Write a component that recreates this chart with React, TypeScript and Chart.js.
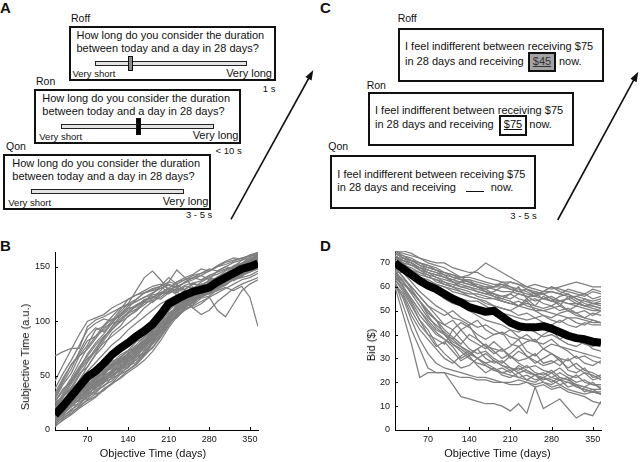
import React, { useEffect, useRef } from "react";
import { Chart, registerables } from "chart.js";

Chart.register(...registerables);

const FONT = '"Liberation Sans", Arial, Helvetica, sans-serif';

// ---------- data ----------
const days = [14, 28, 42, 56, 70, 84, 98, 112, 126, 140, 154, 168, 182, 196, 210, 224, 238, 252, 266, 280, 294, 308, 322, 336, 350, 364];
const xTickValues = [70, 140, 210, 280, 350];
const subjectiveTicks = [0, 50, 100, 150];
const bidTicks = [0, 10, 20, 30, 40, 50, 60, 70];

const subjectiveMean = [14, 22, 31, 40, 49, 54, 61, 69, 75, 80, 86, 91, 97, 106, 116, 120, 124, 127, 129, 131, 136, 140, 144, 148, 150, 153];

const subjectiveSubjects: number[][] = [
  [68, 72, 75, 75, 95, 101, 104, 108, 112, 115, 118, 122, 124, 126, 130, 128, 133, 135, 132, 138, 140, 137, 142, 146, 148, 150],
  [38, 52, 64, 78, 92, 98, 102, 100, 106, 112, 120, 126, 128, 130, 133, 130, 136, 140, 138, 142, 145, 148, 150, 153, 156, 158],
  [30, 44, 56, 72, 86, 94, 90, 98, 108, 116, 128, 140, 146, 138, 128, 132, 135, 138, 142, 146, 150, 152, 155, 158, 160, 162],
  [26, 36, 48, 62, 76, 86, 96, 104, 112, 116, 120, 126, 129, 132, 126, 136, 140, 143, 148, 146, 151, 155, 158, 157, 161, 163],
  [22, 32, 44, 56, 70, 80, 88, 98, 106, 114, 118, 122, 126, 130, 134, 131, 136, 140, 142, 138, 146, 150, 148, 152, 156, 160],
  [34, 48, 60, 68, 74, 84, 94, 98, 100, 107, 111, 118, 125, 132, 140, 134, 128, 122, 125, 130, 134, 140, 137, 142, 145, 148],
  [20, 34, 46, 58, 68, 78, 86, 92, 99, 104, 110, 115, 121, 128, 136, 147, 140, 131, 128, 134, 140, 144, 147, 150, 151, 155],
  [28, 42, 52, 68, 78, 92, 95, 102, 104, 112, 113, 120, 121, 126, 125, 130, 129, 134, 133, 137, 139, 141, 144, 143, 147, 149],
  [18, 30, 42, 54, 64, 75, 85, 94, 102, 108, 114, 119, 117, 124, 130, 127, 120, 112, 106, 110, 118, 124, 130, 134, 137, 140],
  [15, 26, 38, 50, 62, 73, 84, 95, 104, 110, 115, 119, 123, 120, 126, 129, 127, 131, 130, 125, 128, 131, 128, 132, 122, 95],
  [12, 22, 34, 46, 58, 70, 82, 92, 100, 108, 114, 118, 122, 126, 130, 124, 118, 112, 116, 122, 110, 104, 116, 128, 134, 138],
  [45, 60, 74, 88, 100, 103, 106, 112, 116, 120, 124, 126, 130, 132, 136, 134, 138, 142, 144, 146, 150, 154, 156, 158, 160, 162],
  [32, 46, 60, 70, 82, 86, 92, 100, 110, 120, 124, 128, 132, 134, 130, 136, 138, 140, 144, 148, 146, 150, 154, 156, 158, 160],
  [20, 31, 39, 52, 58, 69, 77, 89, 95, 105, 109, 117, 119, 125, 127, 133, 129, 135, 137, 141, 143, 147, 149, 153, 153, 158],
  [26, 38, 44, 56, 66, 72, 80, 86, 92, 98, 104, 112, 118, 122, 128, 126, 132, 130, 136, 140, 138, 144, 146, 150, 152, 154],
  [16, 26, 36, 44, 54, 62, 70, 78, 84, 92, 98, 104, 110, 116, 120, 124, 126, 128, 130, 128, 134, 136, 140, 142, 146, 148],
  [10, 14, 22, 24, 33, 35, 44, 47, 56, 58, 67, 70, 81, 86, 99, 106, 116, 118, 126, 127, 133, 135, 141, 144, 151, 154],
  [12, 19, 23, 31, 35, 41, 45, 53, 57, 65, 69, 79, 85, 97, 104, 113, 117, 123, 125, 131, 134, 141, 144, 151, 154, 160],
  [8, 15, 21, 29, 33, 39, 43, 51, 55, 63, 67, 76, 83, 95, 103, 115, 119, 125, 127, 133, 137, 143, 147, 153, 157, 162],
  [15, 21, 29, 34, 41, 45, 53, 57, 65, 69, 75, 79, 89, 97, 109, 117, 123, 125, 131, 133, 141, 143, 151, 153, 159, 163],
  [20, 27, 30, 37, 42, 49, 53, 61, 65, 70, 77, 82, 91, 99, 111, 115, 121, 123, 129, 130, 135, 138, 143, 145, 151, 153],
  [5, 12, 19, 23, 31, 34, 41, 45, 53, 57, 65, 69, 79, 87, 99, 105, 113, 117, 123, 125, 131, 133, 139, 141, 147, 149],
  [18, 23, 33, 37, 45, 49, 57, 61, 69, 73, 81, 85, 93, 97, 105, 109, 117, 119, 125, 127, 133, 135, 141, 143, 149, 151],
  [9, 18, 26, 33, 38, 44, 50, 59, 62, 71, 74, 83, 90, 101, 107, 112, 118, 120, 126, 129, 135, 137, 143, 148, 152, 157],
  [14, 20, 25, 30, 37, 43, 48, 52, 60, 66, 71, 77, 86, 94, 100, 108, 114, 121, 124, 129, 133, 138, 144, 147, 153, 156],
  [22, 28, 35, 40, 46, 50, 55, 60, 63, 67, 72, 80, 88, 95, 101, 110, 116, 120, 122, 126, 130, 136, 140, 144, 147, 152],
  [6, 11, 15, 22, 27, 31, 38, 43, 51, 55, 61, 69, 79, 89, 101, 103, 111, 115, 121, 123, 129, 133, 139, 141, 147, 150],
  [11, 17, 27, 30, 38, 42, 50, 54, 62, 66, 74, 78, 88, 92, 102, 110, 114, 120, 124, 128, 130, 136, 142, 146, 150, 155],
  [16, 24, 28, 36, 39, 47, 51, 59, 62, 70, 73, 81, 87, 95, 106, 114, 118, 126, 128, 132, 136, 140, 146, 150, 156, 159],
  [7, 13, 18, 26, 29, 37, 40, 48, 51, 59, 62, 70, 75, 85, 96, 106, 112, 118, 123, 127, 132, 138, 142, 148, 152, 158],
  [25, 31, 37, 43, 47, 53, 57, 63, 66, 73, 75, 85, 91, 101, 107, 113, 117, 123, 125, 131, 131, 137, 139, 143, 145, 150],
  [13, 16, 24, 27, 34, 38, 46, 49, 57, 60, 68, 71, 82, 90, 102, 110, 120, 124, 130, 132, 138, 140, 146, 148, 154, 157],
  [9, 16, 22, 28, 31, 40, 44, 50, 54, 61, 64, 73, 80, 92, 100, 111, 115, 121, 124, 130, 132, 138, 140, 146, 150, 154],
  [19, 25, 31, 35, 43, 46, 54, 56, 64, 66, 74, 76, 86, 90, 100, 104, 114, 116, 124, 126, 134, 136, 144, 146, 154, 156],
  [4, 9, 14, 20, 25, 30, 37, 42, 48, 55, 60, 68, 76, 86, 96, 108, 116, 122, 128, 134, 140, 146, 150, 156, 160, 163],
  [17, 21, 26, 32, 36, 42, 47, 54, 59, 63, 69, 76, 84, 90, 98, 104, 110, 114, 118, 122, 126, 130, 134, 138, 140, 144],
  [10, 17, 24, 28, 36, 40, 47, 52, 58, 62, 70, 74, 84, 92, 104, 112, 118, 124, 128, 134, 136, 142, 146, 152, 155, 161],
  [21, 26, 34, 39, 44, 51, 55, 58, 67, 72, 78, 86, 94, 104, 112, 118, 120, 124, 126, 130, 132, 134, 138, 140, 142, 146],
  [13, 20, 27, 33, 40, 44, 49, 55, 61, 64, 72, 80, 90, 100, 110, 118, 126, 130, 134, 136, 140, 144, 148, 150, 154, 160],
  [16, 22, 30, 35, 41, 48, 52, 60, 62, 68, 76, 81, 93, 103, 113, 121, 124, 129, 131, 135, 139, 142, 147, 152, 156, 162],
  [3, 10, 17, 21, 28, 33, 36, 43, 47, 53, 58, 64, 72, 82, 94, 104, 112, 118, 122, 126, 132, 136, 140, 144, 149, 152],
  [24, 31, 38, 45, 52, 58, 63, 68, 72, 78, 84, 90, 98, 106, 114, 118, 122, 125, 128, 131, 135, 139, 142, 145, 148, 151],
];

const bidMean = [70, 67.5, 65, 62.5, 60.5, 59, 57, 55, 53.5, 51.5, 50.5, 49.5, 50, 47.5, 45, 43.5, 43, 43, 43.5, 42.5, 41, 39.5, 38.5, 38, 37, 36.5];

const bidSubjects: number[][] = [
  [75, 75, 74, 72, 71, 70, 70, 68, 67, 66, 66, 64, 63, 62, 62, 61, 60, 61, 60, 59, 60, 61, 62, 61, 60, 60],
  [74, 72, 71, 69, 68, 67, 65, 64, 63, 63, 62, 61, 60, 60, 59, 58, 59, 58, 57, 58, 57, 59, 58, 57, 59, 58],
  [73, 71, 69, 68, 66, 65, 64, 62, 61, 60, 59, 58, 57, 56, 55, 57, 56, 54, 55, 56, 54, 55, 53, 52, 53, 52],
  [72, 70, 69, 67, 65, 64, 63, 62, 60, 60, 58, 57, 56, 54, 53, 52, 53, 52, 51, 52, 50, 51, 49, 50, 48, 50],
  [75, 73, 71, 70, 69, 68, 66, 65, 64, 64, 63, 62, 61, 61, 60, 59, 58, 56, 57, 55, 54, 55, 56, 55, 54, 55],
  [71, 69, 68, 66, 64, 63, 62, 60, 58, 57, 57, 56, 55, 54, 53, 54, 52, 51, 50, 51, 52, 50, 49, 47, 46, 45],
  [74, 73, 71, 69, 67, 66, 65, 62, 62, 61, 60, 58, 57, 55, 54, 52, 55, 58, 57, 55, 52, 56, 54, 52, 51, 50],
  [73, 70, 67, 66, 65, 62, 61, 60, 62, 63, 60, 58, 56, 55, 57, 60, 55, 52, 56, 54, 53, 50, 52, 55, 53, 54],
  [70, 68, 66, 64, 63, 61, 60, 58, 57, 56, 55, 54, 52, 51, 50, 48, 49, 47, 48, 46, 45, 47, 45, 44, 46, 45],
  [75, 74, 73, 72, 70, 69, 68, 66, 64, 65, 67, 70, 68, 66, 64, 62, 60, 59, 58, 58, 57, 56, 56, 57, 55, 56],
  [72, 72, 71, 70, 69, 67, 66, 64, 63, 62, 60, 59, 60, 62, 60, 58, 59, 57, 55, 54, 56, 57, 55, 53, 52, 51],
  [68, 67, 65, 64, 62, 61, 60, 59, 58, 56, 55, 53, 52, 51, 50, 52, 54, 50, 48, 47, 49, 50, 48, 47, 49, 48],
  [74, 72, 70, 67, 66, 64, 62, 61, 60, 59, 58, 57, 58, 60, 62, 61, 59, 57, 58, 60, 58, 57, 55, 54, 53, 53],
  [66, 66, 64, 62, 61, 59, 58, 56, 55, 54, 54, 52, 50, 49, 48, 47, 46, 47, 45, 44, 46, 44, 43, 45, 44, 44],
  [73, 71, 70, 68, 67, 66, 64, 63, 62, 61, 60, 60, 59, 58, 58, 57, 56, 56, 55, 54, 54, 53, 53, 52, 52, 51],
  [70, 69, 67, 65, 64, 63, 61, 60, 59, 58, 56, 55, 55, 54, 53, 52, 51, 50, 50, 49, 48, 47, 47, 46, 45, 45],
  [74, 73, 72, 70, 68, 67, 66, 65, 63, 62, 61, 60, 60, 61, 59, 58, 57, 56, 58, 60, 59, 58, 57, 56, 58, 57],
  [72, 71, 70, 68, 66, 65, 64, 63, 64, 62, 60, 59, 57, 56, 57, 55, 54, 55, 53, 52, 54, 53, 52, 51, 50, 50],
  [70, 67, 64, 62, 60, 58, 55, 53, 52, 50, 48, 46, 45, 44, 42, 41, 43, 41, 39, 40, 38, 40, 38, 36, 35, 36],
  [68, 64, 60, 56, 52, 50, 48, 50, 47, 45, 43, 44, 42, 40, 42, 39, 38, 37, 40, 42, 38, 36, 35, 37, 34, 33],
  [66, 62, 58, 54, 50, 46, 44, 42, 45, 43, 40, 38, 40, 41, 36, 35, 37, 38, 34, 36, 35, 33, 30, 31, 29, 28],
  [64, 60, 55, 50, 46, 42, 40, 38, 42, 44, 38, 35, 34, 33, 35, 38, 33, 31, 34, 32, 30, 29, 31, 28, 27, 29],
  [69, 66, 62, 58, 55, 52, 50, 47, 46, 44, 46, 42, 40, 41, 39, 38, 40, 37, 36, 38, 35, 34, 33, 32, 31, 30],
  [65, 60, 54, 48, 44, 40, 38, 35, 30, 32, 34, 30, 28, 29, 26, 25, 27, 24, 23, 25, 22, 21, 23, 20, 19, 18],
  [63, 58, 52, 46, 42, 36, 32, 29, 26, 27, 30, 28, 26, 24, 25, 22, 23, 21, 22, 20, 22, 21, 19, 18, 20, 17],
  [61, 57, 50, 44, 40, 38, 36, 42, 38, 34, 32, 33, 30, 28, 31, 28, 26, 27, 25, 24, 26, 23, 22, 24, 21, 22],
  [60, 56, 48, 42, 38, 34, 30, 28, 31, 33, 30, 27, 25, 26, 24, 27, 25, 23, 21, 22, 24, 22, 18, 17, 16, 15],
  [62, 55, 46, 38, 32, 28, 26, 25, 24, 23, 22, 22, 21, 20, 20, 21, 20, 19, 20, 18, 19, 17, 16, 15, 16, 15],
  [67, 62, 58, 54, 50, 46, 40, 36, 34, 31, 34, 36, 33, 30, 32, 35, 31, 28, 30, 32, 29, 26, 28, 25, 24, 22],
  [66, 63, 60, 56, 52, 48, 44, 46, 42, 38, 36, 34, 37, 34, 31, 29, 30, 32, 28, 29, 27, 30, 26, 24, 23, 21],
  [64, 61, 58, 54, 49, 46, 42, 39, 36, 40, 38, 35, 32, 34, 30, 33, 31, 29, 27, 28, 30, 25, 24, 26, 22, 23],
  [60, 48, 36, 22, 24, 24, 24, 19, 14, 13, 12, 11, 11, 10, 8, 11, 7, 18, 9, 11, 13, 9, 5, 7, 6, 12],
  [62, 52, 42, 34, 26, 24, 24, 23, 22, 22, 21, 21, 20, 20, 19, 19, 20, 18, 19, 17, 18, 16, 15, 14, 12, 11],
  [68, 64, 59, 54, 48, 43, 40, 37, 35, 33, 30, 28, 29, 27, 25, 26, 24, 23, 22, 24, 21, 22, 20, 21, 19, 19],
  [65, 62, 57, 52, 47, 44, 41, 38, 35, 32, 30, 32, 29, 27, 26, 24, 25, 23, 24, 22, 21, 20, 19, 18, 17, 17],
  [63, 59, 53, 46, 40, 35, 37, 33, 29, 31, 27, 24, 26, 23, 22, 24, 21, 23, 20, 19, 21, 18, 19, 16, 17, 15],
  [66, 60, 55, 50, 45, 41, 38, 36, 33, 30, 28, 27, 25, 24, 23, 22, 21, 20, 22, 21, 19, 20, 18, 17, 16, 16],
];

// ---------- chart helpers ----------
const inwardTicks = {
  id: "inwardTicks",
  afterDatasetsDraw(chart: any) {
    const { ctx, chartArea, scales } = chart;
    ctx.save();
    ctx.strokeStyle = "#000";
    ctx.lineWidth = 1;
    ctx.beginPath();
    scales.x.ticks.forEach((t: any) => {
      const px = Math.round(scales.x.getPixelForValue(t.value)) + 0.5;
      ctx.moveTo(px, chartArea.bottom);
      ctx.lineTo(px, chartArea.bottom - 3);
    });
    scales.y.ticks.forEach((t: any) => {
      const py = Math.round(scales.y.getPixelForValue(t.value)) + 0.5;
      ctx.moveTo(chartArea.left, py);
      ctx.lineTo(chartArea.left + 3, py);
    });
    ctx.stroke();
    ctx.restore();
  },
};

type LCProps = {
  left: number; top: number; width: number; height: number;
  padTop: number; padRight: number; yWidth: number;
  yMax: number; yTicks: number[]; mean: number[]; subjects: number[][];
};

function LineChart(p: LCProps) {
  const ref = useRef<HTMLCanvasElement>(null);
  useEffect(() => {
    const toPts = (vals: number[]) => vals.map((v, i) => ({ x: days[i], y: v }));
    const datasets: any[] = [
      {
        data: toPts(p.mean),
        borderColor: "#000",
        borderWidth: 8,
        borderJoinStyle: "round",
        pointRadius: 0,
        clip: 0,
      },
      ...p.subjects.map((s) => ({
        data: toPts(s),
        borderColor: "#7f7f7f",
        borderWidth: 1.25,
        pointRadius: 0,
        clip: 0,
      })),
    ];
    const tickFont = { family: FONT, size: 9 };
    const chart = new Chart(ref.current!, {
      type: "line",
      data: { datasets },
      plugins: [inwardTicks],
      options: {
        animation: false,
        responsive: false,
        maintainAspectRatio: false,
        layout: { padding: { top: p.padTop, right: p.padRight, left: 0, bottom: 0 } },
        plugins: { legend: { display: false }, tooltip: { enabled: false } },
        elements: { line: { tension: 0 }, point: { radius: 0 } },
        scales: {
          x: {
            type: "linear",
            min: 14,
            max: 364,
            grid: { display: false, drawTicks: false },
            border: { display: true, color: "#000", width: 1 },
            ticks: { font: tickFont, color: "#111", padding: 4, maxRotation: 0 },
            afterBuildTicks: (s: any) => { s.ticks = xTickValues.map((v) => ({ value: v })); },
            afterFit: (s: any) => { s.height = 32; },
          },
          y: {
            type: "linear",
            min: 0,
            max: p.yMax,
            grid: { display: false, drawTicks: false },
            border: { display: true, color: "#000", width: 1 },
            ticks: { font: tickFont, color: "#111", padding: 5 },
            afterBuildTicks: (s: any) => { s.ticks = p.yTicks.map((v) => ({ value: v })); },
            afterFit: (s: any) => { s.width = p.yWidth; },
          },
        },
      } as any,
    });
    return () => chart.destroy();
  }, []);
  return (
    <canvas
      ref={ref}
      width={p.width}
      height={p.height}
      style={{ position: "absolute", left: p.left, top: p.top, width: p.width, height: p.height }}
    />
  );
}

// ---------- diagram helpers ----------
function Txt(props: { x: number; y: number; size: number; bold?: boolean; align?: "left" | "right" | "center"; children: any; style?: any }) {
  const { x, y, size, bold, align = "left", children, style } = props;
  const lh = Math.round(size * 1.2);
  const st: any = {
    position: "absolute",
    top: y - lh / 2,
    fontSize: size,
    lineHeight: lh + "px",
    whiteSpace: "nowrap",
    fontWeight: bold ? "bold" : "normal",
    color: "#111",
  };
  if (align === "left") st.left = x;
  else if (align === "right") st.right = 640 - x;
  else { st.left = x; st.transform = "translateX(-50%)"; }
  return <div style={{ ...st, ...style }}>{children}</div>;
}

function Rect(props: { l: number; t: number; r: number; b: number; fill?: string; bw?: number; color?: string }) {
  const { l, t, r, b, fill = "#fff", bw = 2, color = "#111" } = props;
  return (
    <div
      style={{
        position: "absolute", left: l, top: t, width: r - l, height: b - t,
        boxSizing: "border-box", border: `${bw}px solid ${color}`, background: fill,
      }}
    />
  );
}

function Arrow({ x1, y1, x2, y2 }: { x1: number; y1: number; x2: number; y2: number }) {
  const dx = x2 - x1, dy = y2 - y1;
  const len = Math.hypot(dx, dy);
  const ux = dx / len, uy = dy / len;
  const nx = -uy, ny = ux;
  const hl = 10, hw = 3.5;
  const bx = x2 - ux * hl, by = y2 - uy * hl;
  const pts = `${x2},${y2} ${bx + nx * hw},${by + ny * hw} ${bx - nx * hw},${by - ny * hw}`;
  return (
    <g>
      <line x1={x1} y1={y1} x2={bx + ux * 2} y2={by + uy * 2} stroke="#111" strokeWidth={1.6} />
      <polygon points={pts} fill="#111" />
    </g>
  );
}

const Q1 = "How long do you consider the duration";
const Q2 = "between today and a day in 28 days?";
const C1 = "I feel indifferent between receiving $75";
const C2 = "in 28 days and receiving";

function SliderScreen(props: { label: string; lx: number; ly: number; l: number; t: number; r: number; b: number; tx: number; bar: [number, number, number]; handle?: [number, number, number, number, string]; shortX: number; longR: number; time: string; timeX: number; timeY: number }) {
  const { label, lx, ly, l, t, r, b, tx, bar, handle, shortX, longR, time, timeX, timeY } = props;
  return (
    <>
      <Txt x={lx} y={ly} size={10.5}>{label}</Txt>
      <Rect l={l} t={t} r={r} b={b} />
      <Txt x={tx} y={t + 9} size={11}>{Q1}</Txt>
      <Txt x={tx} y={t + 22.3} size={11}>{Q2}</Txt>
      <div
        style={{
          position: "absolute", left: bar[0], top: bar[2], width: bar[1] - bar[0], height: 5,
          boxSizing: "border-box", border: "1px solid #222", background: "#e4e4e4",
        }}
      />
      {handle && (
        <div
          style={{
            position: "absolute", left: handle[0], top: handle[1], width: handle[2], height: handle[3],
            boxSizing: "border-box", border: "1px solid #111", background: handle[4],
          }}
        />
      )}
      <Txt x={shortX} y={b - 7.5} size={9.5}>Very short</Txt>
      <Txt x={longR} y={b - 7.8} size={11} align="right">Very long</Txt>
      <Txt x={timeX} y={timeY} size={9.5} align="right">{time}</Txt>
    </>
  );
}

export default function App() {
  return (
    <div
      style={{
        position: "absolute", left: 0, top: 0, width: 640, height: 462,
        background: "#fff", fontFamily: FONT, overflow: "hidden",
      }}
    >
      {/* Panel A */}
      <Txt x={0} y={8} size={15} bold>A</Txt>
      <SliderScreen label="Roff" lx={71} ly={18} l={69} t={26} r={276} b={81} tx={76.5} bar={[95, 247, 60.5]} handle={[128, 55.5, 4.5, 15.5, "#8a8a8a"]} shortX={72.5} longR={272} time="1 s" timeX={275.5} timeY={88.5} />
      <SliderScreen label="Ron" lx={36} ly={81} l={34} t={89} r={241} b={143.5} tx={42.3} bar={[61, 213.5, 124]} handle={[136, 118.3, 4.5, 17, "#000"]} shortX={39.3} longR={238.5} time="< 10 s" timeX={241.7} timeY={150.7} />
      <SliderScreen label="Qon" lx={6} ly={146} l={3} t={154} r={211} b={209.5} tx={12.3} bar={[31, 183.5, 189]} shortX={8.3} longR={208.5} time="3 - 5 s" timeX={212.3} timeY={214.5} />

      {/* Panel C */}
      <Txt x={320} y={8} size={15} bold>C</Txt>
      <Txt x={397.7} y={18.3} size={10.5}>Roff</Txt>
      <Rect l={397.7} t={27.7} r={604} b={82.3} />
      <Txt x={405} y={46.7} size={11}>{C1}</Txt>
      <Txt x={405} y={61} size={11}>{C2}</Txt>
      <Rect l={528.3} t={52.3} r={555.7} b={71.7} fill="#a3a3a3" />
      <Txt x={542} y={61} size={11} align="center" style={{ textDecoration: "underline", color: "#333" }}>$45</Txt>
      <Txt x={559} y={61} size={11}>now.</Txt>

      <Txt x={366.7} y={85} size={10.5}>Ron</Txt>
      <Rect l={368.3} t={92.3} r={574} b={146} />
      <Txt x={375} y={110} size={11}>{C1}</Txt>
      <Txt x={375} y={124} size={11}>{C2}</Txt>
      <Rect l={499} t={115} r={526.7} b={135.7} />
      <Txt x={513} y={124} size={11} align="center" style={{ textDecoration: "underline" }}>$75</Txt>
      <Txt x={529.3} y={124} size={11}>now.</Txt>

      <Txt x={328.3} y={146.7} size={10.5}>Qon</Txt>
      <Rect l={330} t={155} r={536} b={209} />
      <Txt x={337.3} y={174} size={11}>{C1}</Txt>
      <Txt x={337.3} y={187.3} size={11}>{C2}</Txt>
      <div style={{ position: "absolute", left: 465.7, top: 190.5, width: 18.5, height: 0, borderTop: "1px solid #111" }} />
      <Txt x={490.7} y={187.3} size={11}>now.</Txt>
      <Txt x={536.7} y={215} size={9.5} align="right">3 - 5 s</Txt>

      <svg width={640} height={462} style={{ position: "absolute", left: 0, top: 0, pointerEvents: "none" }}>
        <Arrow x1={231} y1={219.3} x2={313.3} y2={70} />
        <Arrow x1={557.7} y1={220} x2={638.3} y2={71.7} />
      </svg>

      {/* Panel B */}
      <Txt x={0} y={246} size={15} bold>B</Txt>
      <LineChart left={0} top={240} width={270} height={222} padTop={12} padRight={12} yWidth={55}
        yMax={163.5} yTicks={subjectiveTicks} mean={subjectiveMean} subjects={subjectiveSubjects} />
      <div style={{ position: "absolute", left: 25, top: 356.7, transform: "translate(-50%,-50%) rotate(-90deg)", fontSize: 11, whiteSpace: "nowrap", color: "#111" }}>
        Subjective Time (a.u.)
      </div>
      <Txt x={153} y={453.3} size={11} align="center">Objective Time (days)</Txt>

      {/* Panel D */}
      <Txt x={320} y={246} size={15} bold>D</Txt>
      <LineChart left={330} top={240} width={290} height={222} padTop={11} padRight={19} yWidth={65}
        yMax={75} yTicks={bidTicks} mean={bidMean} subjects={bidSubjects} />
      <div style={{ position: "absolute", left: 370.7, top: 345, transform: "translate(-50%,-50%) rotate(-90deg)", fontSize: 11, whiteSpace: "nowrap", color: "#111" }}>
        Bid ($)
      </div>
      <Txt x={497.5} y={453.3} size={11} align="center">Objective Time (days)</Txt>
    </div>
  );
}
